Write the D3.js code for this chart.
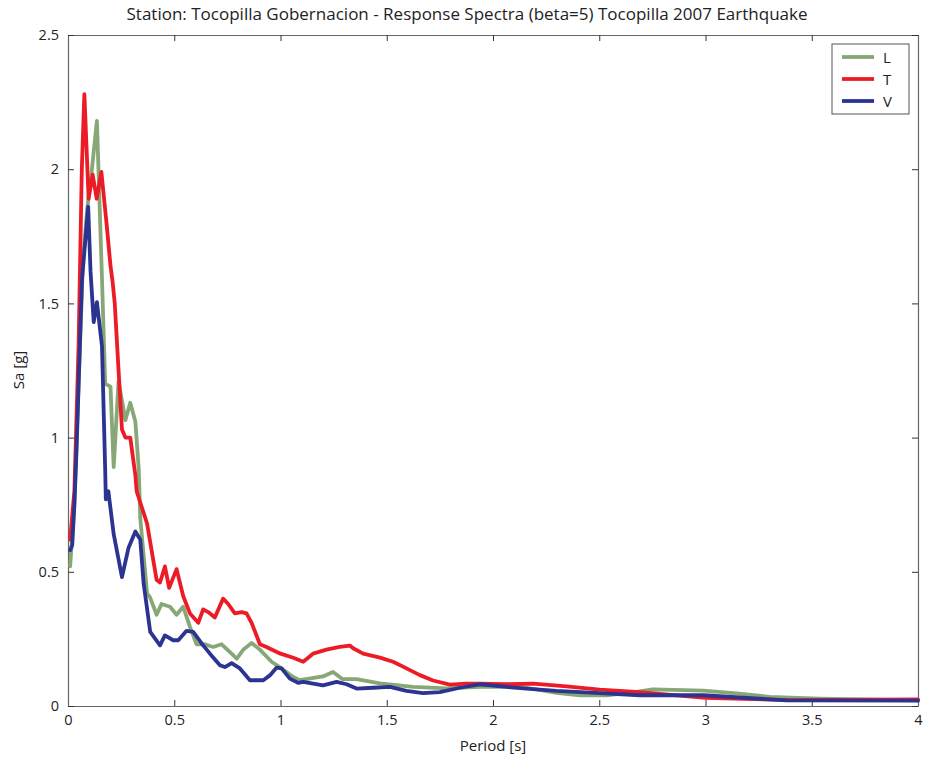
<!DOCTYPE html>
<html>
<head>
<meta charset="utf-8">
<script src="https://cdn.jsdelivr.net/npm/d3@7/dist/d3.min.js"></script>
<style>
  html, body { margin: 0; padding: 0; background: #fff; }
  svg { display: block; }
  text { font-family: "Open Sans", "Noto Sans", sans-serif; fill: #222; }
</style>
</head>
<body>
<svg id="chart" width="925" height="758"></svg>
<script>
// Response spectra, 5% damping — Tocopilla 2007, Gobernacion station
const periodL = [0.01,0.03,0.05,0.07,0.09,0.11,0.136,0.16,0.175,0.2,0.215,0.238,0.27,0.293,0.317,0.333,0.34,0.372,0.386,0.417,0.44,0.48,0.511,0.542,0.574,0.605,0.644,0.683,0.723,0.77,0.794,0.825,0.864,0.903,0.958,1.005,1.06,1.09,1.156,1.2,1.247,1.293,1.358,1.468,1.623,1.78,1.94,2.1,2.157,2.299,2.41,2.534,2.65,2.752,2.99,3.145,3.302,3.537,4.0];
const saL     = [0.52,0.75,1.2,1.65,1.85,1.98,2.18,1.59,1.2,1.19,0.89,1.21,1.065,1.13,1.06,0.88,0.70,0.42,0.405,0.34,0.38,0.37,0.34,0.37,0.295,0.23,0.23,0.22,0.23,0.195,0.176,0.21,0.235,0.21,0.165,0.14,0.108,0.096,0.105,0.11,0.127,0.10,0.10,0.084,0.071,0.066,0.071,0.071,0.068,0.049,0.04,0.04,0.05,0.062,0.057,0.047,0.034,0.027,0.021];

const periodT = [0.01,0.03,0.05,0.065,0.077,0.097,0.116,0.135,0.157,0.18,0.2,0.21,0.22,0.238,0.254,0.27,0.293,0.317,0.323,0.372,0.417,0.433,0.456,0.476,0.511,0.542,0.574,0.613,0.636,0.66,0.691,0.73,0.754,0.785,0.817,0.84,0.864,0.903,0.934,1.0,1.06,1.107,1.153,1.216,1.279,1.326,1.342,1.389,1.468,1.53,1.593,1.656,1.718,1.797,1.875,1.938,2.064,2.19,2.346,2.502,2.69,3.0,3.4,4.0];
const saT     = [0.62,0.8,1.35,2.0,2.28,1.89,1.98,1.89,1.99,1.81,1.64,1.58,1.50,1.25,1.03,1.0,1.0,0.86,0.80,0.68,0.47,0.46,0.52,0.44,0.51,0.41,0.345,0.31,0.36,0.35,0.33,0.40,0.38,0.345,0.35,0.345,0.31,0.23,0.22,0.195,0.18,0.165,0.195,0.21,0.22,0.225,0.215,0.195,0.18,0.165,0.14,0.115,0.095,0.08,0.083,0.083,0.081,0.083,0.073,0.061,0.052,0.03,0.022,0.025];

const periodV = [0.01,0.02,0.03,0.04,0.05,0.066,0.08,0.095,0.106,0.121,0.136,0.16,0.175,0.178,0.19,0.215,0.254,0.285,0.317,0.34,0.356,0.387,0.433,0.456,0.495,0.519,0.558,0.589,0.629,0.668,0.715,0.738,0.77,0.809,0.856,0.919,0.95,0.982,1.005,1.044,1.083,1.107,1.2,1.264,1.311,1.358,1.436,1.515,1.593,1.671,1.75,1.844,1.938,2.064,2.157,2.299,2.502,2.69,2.99,3.38,4.0];
const saV     = [0.58,0.6,0.75,0.95,1.2,1.59,1.72,1.86,1.62,1.43,1.505,1.34,0.88,0.77,0.80,0.64,0.48,0.59,0.65,0.62,0.456,0.276,0.226,0.263,0.245,0.245,0.28,0.276,0.233,0.195,0.152,0.145,0.16,0.14,0.096,0.096,0.114,0.143,0.14,0.102,0.086,0.09,0.077,0.09,0.081,0.065,0.068,0.071,0.056,0.048,0.052,0.068,0.081,0.071,0.065,0.056,0.048,0.04,0.04,0.021,0.02];

const xTicks = [0, 0.5, 1, 1.5, 2, 2.5, 3, 3.5, 4];
const yTicks = [0, 0.5, 1, 1.5, 2, 2.5];

const series = [
  { name: "L", period: periodL, sa: saL, color: "#87a876" },
  { name: "T", period: periodT, sa: saT, color: "#ec1c26" },
  { name: "V", period: periodV, sa: saV, color: "#2c3492" }
];

const svg = d3.select("#chart");
const m = { left: 68, top: 35, right: 918, bottom: 706 };
const x = d3.scaleLinear().domain([0, 4]).range([m.left, m.right]);
const y = d3.scaleLinear().domain([0, 2.5]).range([m.bottom, m.top]);
const axisColor = "#666";
const tickLen = 6;

// title
svg.append("text")
  .attr("x", 467).attr("y", 20)
  .attr("text-anchor", "middle")
  .attr("textLength", 681).attr("lengthAdjust", "spacingAndGlyphs")
  .style("font-size", "15.5px")
  .text("Station: Tocopilla Gobernacion - Response Spectra (beta=5) Tocopilla 2007 Earthquake");

// frame with inward ticks on all four sides
const gx = svg.append("g").attr("transform", `translate(0,${m.bottom})`)
  .call(d3.axisBottom(x).tickValues(xTicks).tickFormat(d3.format("")).tickSizeInner(-tickLen).tickSizeOuter(0).tickPadding(9));
const gxt = svg.append("g").attr("transform", `translate(0,${m.top})`)
  .call(d3.axisTop(x).tickValues(xTicks).tickFormat("").tickSizeInner(-tickLen).tickSizeOuter(0));
const gy = svg.append("g").attr("transform", `translate(${m.left},0)`)
  .call(d3.axisLeft(y).tickValues(yTicks).tickFormat(d3.format("")).tickSizeInner(-tickLen).tickSizeOuter(0).tickPadding(9));
const gyr = svg.append("g").attr("transform", `translate(${m.right},0)`)
  .call(d3.axisRight(y).tickValues(yTicks).tickFormat("").tickSizeInner(-tickLen).tickSizeOuter(0));

[gx, gxt, gy, gyr].forEach(g => {
  g.select(".domain").attr("stroke", axisColor).attr("stroke-width", 1.2);
  g.selectAll(".tick line").attr("stroke", "#333").attr("stroke-width", 1);
  g.selectAll(".tick text").style("font-size", "14.5px").style("font-family", "'Open Sans', sans-serif").attr("fill", "#222");
});

// series lines
const line = d3.line().x(d => x(d[0])).y(d => y(d[1]));
const plot = svg.append("g");
series.forEach(s => {
  plot.append("path")
    .datum(s.period.map((p, i) => [p, s.sa[i]]))
    .attr("fill", "none")
    .attr("stroke", s.color)
    .attr("stroke-width", 3.8)
    .attr("stroke-linejoin", "round")
    .attr("stroke-linecap", "round")
    .attr("d", line);
});

// axis labels
svg.append("text")
  .attr("x", 493).attr("y", 751)
  .attr("text-anchor", "middle").style("font-size", "15px")
  .text("Period [s]");
svg.append("text")
  .attr("transform", `translate(24,370) rotate(-90)`)
  .attr("text-anchor", "middle").style("font-size", "15px")
  .text("Sa [g]");

// legend
const lg = svg.append("g");
lg.append("rect")
  .attr("x", 832).attr("y", 44).attr("width", 77).attr("height", 70)
  .attr("fill", "#fff").attr("stroke", "#555").attr("stroke-width", 1);
series.forEach((s, i) => {
  const ly = 57 + i * 22;
  lg.append("line")
    .attr("x1", 842).attr("x2", 874).attr("y1", ly).attr("y2", ly)
    .attr("stroke", s.color).attr("stroke-width", 3.8);
  lg.append("text")
    .attr("x", 883).attr("y", ly + 5.5).style("font-size", "15px")
    .text(s.name);
});
</script>
</body>
</html>
